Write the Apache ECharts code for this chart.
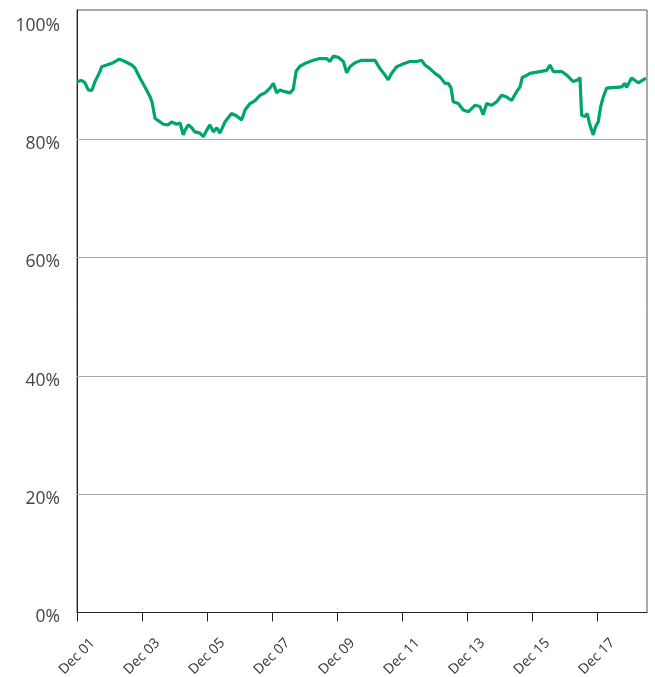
<!DOCTYPE html>
<html>
<head>
<meta charset="utf-8">
<script src="https://cdn.jsdelivr.net/npm/echarts@6/dist/echarts.min.js"></script>
<style>
  html, body { margin: 0; padding: 0; background: #fff; }
  #chart { width: 655px; height: 677px; }
</style>
</head>
<body>
<div id="chart"></div>
<script>
// hours since Dec 01 00:00
const hours = [
  0, 3.5, 5.9, 8.3, 10.9, 13.3, 17, 18.2, 21.9, 26.8, 31.2, 35.4, 40.4, 42.8, 46.5, 50.2, 53.9,
  55.6, 57.6, 60, 63.7, 67.4, 69.9, 73.6, 76.1, 78.5, 79.8, 82.2, 84.7, 87.1, 90.8, 93.3, 95.8,
  98.2, 100.7, 103.2, 105.6, 109.3, 114.2, 118, 121.6, 124.1, 127.8, 131.5, 135.2, 138.9, 142.5,
  145, 147.5, 149.9, 153.6, 157.3, 159.7, 161, 161.9, 164.7, 169.6, 174.5, 179.5, 184.4, 186.8,
  189.3, 193, 196.7, 199.2, 201.6, 205.3, 210.2, 215.1, 220.1, 223.8, 227.5, 229.9, 232.4, 236.1,
  241, 245.9, 250.9, 254.6, 257, 260.7, 264.4, 268.1, 271.8, 274.2, 276.2, 277.9, 281.6, 285.3,
  289, 293.9, 297.6, 300, 302.6, 306.3, 310, 313.7, 317.4, 321, 324.7, 327.2, 328.9, 330.8, 334.5,
  341.9, 346.9, 349.3, 351.8, 358, 361.7, 366.5, 370.2, 371.5, 372.7, 375.2, 376.9, 378.8, 381.3,
  383, 385, 386.8, 388.7, 391.2, 396.1, 402.3, 404.7, 405.9, 409.6, 414.5, 420.2
]
const share = [
  89.7, 89.9, 89.5, 88.3, 88.2, 89.7, 91.4, 92.2, 92.5, 92.9, 93.5, 93.1, 92.5, 92.0, 90.3, 88.8, 87.2,
  86.1, 83.5, 83.1, 82.5, 82.4, 82.9, 82.5, 82.7, 80.7, 81.5, 82.4, 81.9, 81.2, 81.0, 80.4, 81.5,
  82.4, 81.2, 81.9, 81.0, 82.9, 84.3, 83.9, 83.2, 84.9, 86.0, 86.5, 87.4, 87.8, 88.6,
  89.4, 87.8, 88.3, 88.0, 87.8, 88.4, 88.3, 91.5, 92.3, 92.9, 93.3, 93.6, 93.6, 93.1,
  94.0, 93.8, 93.1, 91.2, 92.2, 92.9, 93.3, 93.3, 93.3, 91.9, 90.8, 90.0, 91.1, 92.2,
  92.7, 93.1, 93.1, 93.3, 92.5, 91.9, 91.1, 90.5, 89.4, 89.4, 88.7, 86.3, 86.0, 84.9,
  84.6, 85.7, 85.5, 84.1, 86.0, 85.7, 86.3, 87.4, 87.1, 86.5, 88.0, 88.8, 90.4, 90.6, 91.1,
  91.4, 91.6, 92.5, 91.4, 91.4, 90.8, 89.7, 90.0, 90.4, 84.0, 83.8, 84.3, 82.4, 80.7,
  82.1, 82.9, 85.5, 87.1, 88.6, 88.7, 88.8, 89.4, 88.7, 90.3, 89.5, 90.3
]
const dayTicks = [0, 48, 96, 144, 192, 240, 288, 336, 384]
const pctTicks = [0, 20, 40, 60, 80, 100]
const gridValues = [20, 40, 60, 80]

let chart = echarts.init(document.getElementById('chart'), null, { renderer: 'canvas' })
let pad = n => (n < 10 ? '0' : '') + n

let option = {
  animation: false,
  grid: {
    left: 77,
    right: 8,
    top: 10,
    bottom: 64.5,
    containLabel: false,
    outerBoundsMode: 'none',
    show: true,
    borderColor: '#555',
    borderWidth: 1
  },
  xAxis: {
    type: 'value',
    min: 0,
    max: 421,
    interval: 48,
    axisLine: { show: true, lineStyle: { color: '#222', width: 1 } },
    axisTick: {
      show: true,
      inside: false,
      length: 9,
      customValues: dayTicks,
      lineStyle: { color: '#222' }
    },
    splitLine: { show: false },
    axisLabel: {
      customValues: dayTicks,
      rotate: 45,
      align: 'center',
      verticalAlign: 'middle',
      margin: 44,
      fontFamily: 'Open Sans',
      fontSize: 14,
      color: '#333',
      formatter: v => 'Dec ' + pad(Math.round(v / 24) + 1)
    }
  },
  yAxis: {
    type: 'value',
    min: 0,
    max: 101.8,
    interval: 20,
    axisLine: { show: true, lineStyle: { color: '#222', width: 1 } },
    axisTick: { show: false },
    splitLine: { show: false },
    axisLabel: {
      customValues: pctTicks,
      margin: 17,
      verticalAlign: 'top',
      lineHeight: 10,
      fontFamily: 'Open Sans',
      fontSize: 17.5,
      color: '#444',
      formatter: v => v + '%'
    }
  },
  series: [{
    type: 'line',
    data: hours.map((h, i) => [h, share[i]]),
    showSymbol: false,
    symbol: 'none',
    lineStyle: { color: '#00a56d', width: 3.2 },
    z: 3,
    markLine: {
      silent: true,
      symbol: 'none',
      label: { show: false },
      lineStyle: { color: '#aaa', width: 1, type: 'solid' },
      data: gridValues.map(v => ({ yAxis: v }))
    }
  }]
}
chart.setOption(option)
</script>
</body>
</html>
